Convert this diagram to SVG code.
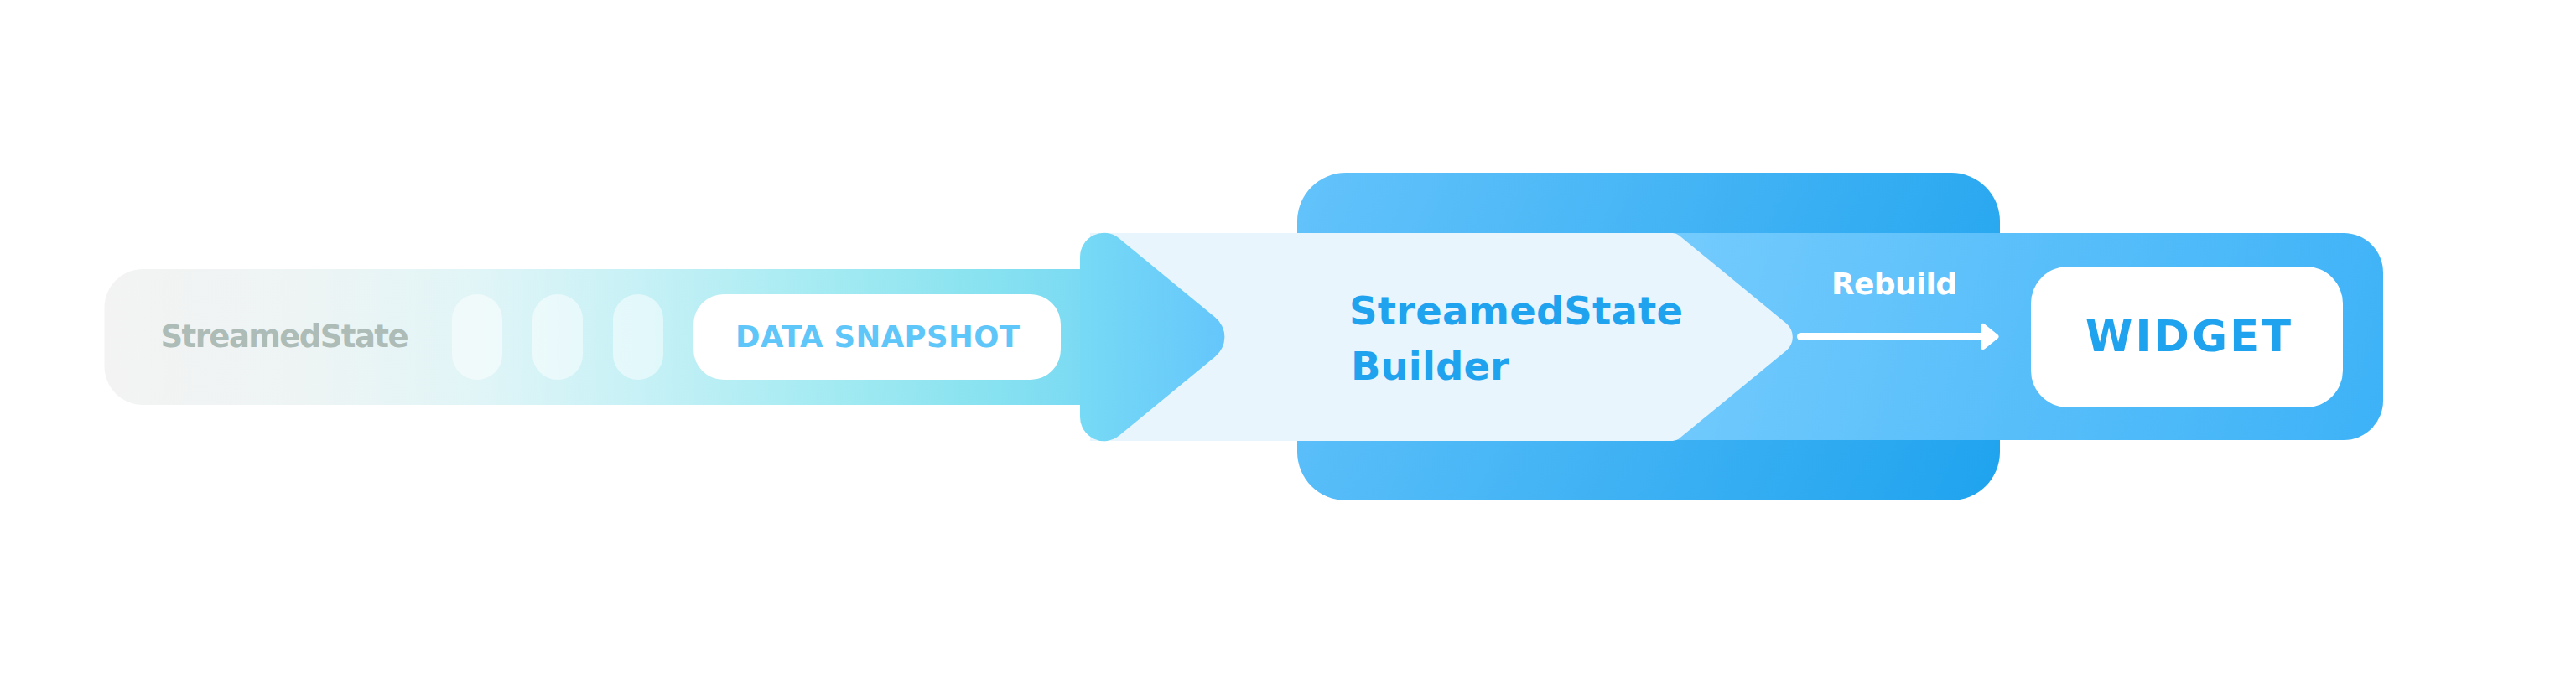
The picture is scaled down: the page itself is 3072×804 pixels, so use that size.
<svg xmlns="http://www.w3.org/2000/svg" width="3072" height="804" viewBox="0 0 3072 804">
  <defs>
    <linearGradient id="gBar" gradientUnits="userSpaceOnUse" x1="124" y1="0" x2="1290" y2="0">
      <stop offset="0" stop-color="#f3f3f3"/>
      <stop offset="0.2" stop-color="#eef4f4"/>
      <stop offset="0.38" stop-color="#e1f5f7"/>
      <stop offset="0.55" stop-color="#c6f1f6"/>
      <stop offset="0.75" stop-color="#a2eaf2"/>
      <stop offset="0.9" stop-color="#88e2f0"/>
      <stop offset="1" stop-color="#7bdaf3"/>
    </linearGradient>
    <linearGradient id="gArrow" gradientUnits="userSpaceOnUse" x1="1288" y1="0" x2="1462" y2="0">
      <stop offset="0" stop-color="#77daf5"/>
      <stop offset="1" stop-color="#64c6fb"/>
    </linearGradient>
    <linearGradient id="gBig" gradientUnits="userSpaceOnUse" x1="1547" y1="206" x2="2385" y2="597">
      <stop offset="0" stop-color="#64c3fb"/>
      <stop offset="1" stop-color="#1fa3ee"/>
    </linearGradient>
    <linearGradient id="gBand" gradientUnits="userSpaceOnUse" x1="1990" y1="278" x2="2842" y2="525">
      <stop offset="0" stop-color="#74cbfd"/>
      <stop offset="1" stop-color="#3db2f7"/>
    </linearGradient>
    <style>
      .t { font-family: "DejaVu Sans", "Open Sans", sans-serif; font-weight: 700; }
      .pill { fill: #ffffff; fill-opacity: 0.5; }
      .card { fill: #ffffff; }
    </style>
  </defs>

  <rect width="3072" height="804" fill="#ffffff"/>

  <g id="builder">
    <rect x="1547" y="206" width="838" height="391" rx="58" fill="url(#gBig)"/>
    <rect x="1900" y="278" width="942" height="247" rx="47" fill="url(#gBand)"/>
    <path d="M1300,278 L1994.7,278 Q1999,278 2002.3,280.7 L2130.2,385.8 A21 21 0 0 1 2130.2,418.2 L2002.3,523.3 Q1999,526 1994.7,526 L1300,526 Z" fill="#e8f5fd"/>
    <text class="t" x="1609" y="387" font-size="46.5" fill="#1fa3ee" textLength="398" lengthAdjust="spacing">StreamedState</text>
    <text class="t" x="1611" y="453" font-size="46.5" fill="#1fa3ee" textLength="189" lengthAdjust="spacing">Builder</text>
  </g>

  <g id="source">
    <rect x="124.5" y="321" width="1215" height="162" rx="46" fill="url(#gBar)"/>
    <path d="M1288,306.5 A28.6 28.6 0 0 1 1334.8,284.4 L1449.4,378.8 A30 30 0 0 1 1449.4,425.2 L1334.8,519.6 A28.6 28.6 0 0 1 1288,497.5 Z" fill="url(#gArrow)"/>
    <text class="t" x="191.5" y="414" font-size="37" fill="#aebcb8" textLength="296" lengthAdjust="spacing">StreamedState</text>
    <rect class="pill" x="539" y="351" width="60" height="102" rx="30"/>
    <rect class="pill" x="635" y="351" width="60" height="102" rx="30"/>
    <rect class="pill" x="731" y="351" width="60" height="102" rx="30"/>
  </g>

  <g id="data-snapshot">
    <rect class="card" x="827" y="351" width="438" height="102" rx="36"/>
    <text class="t" x="877" y="414" font-size="35.5" fill="#5ec6f8" textLength="339" lengthAdjust="spacing">DATA SNAPSHOT</text>
  </g>

  <g id="widget">
    <rect class="card" x="2422" y="318" width="372" height="168" rx="44"/>
    <text class="t" x="2487" y="419" font-size="51" fill="#1fa3ee" textLength="245" lengthAdjust="spacing">WIDGET</text>
  </g>

  <g id="connectors">
    <text class="t" x="2184" y="351" font-size="36" fill="#ffffff" textLength="150" lengthAdjust="spacing">Rebuild</text>
    <line x1="2147.5" y1="401.5" x2="2366" y2="401.5" stroke="#ffffff" stroke-width="9" stroke-linecap="round"/>
    <polygon points="2365,389 2365,414 2380.5,401.5" fill="#ffffff" stroke="#ffffff" stroke-width="6" stroke-linejoin="round"/>
  </g>
</svg>
